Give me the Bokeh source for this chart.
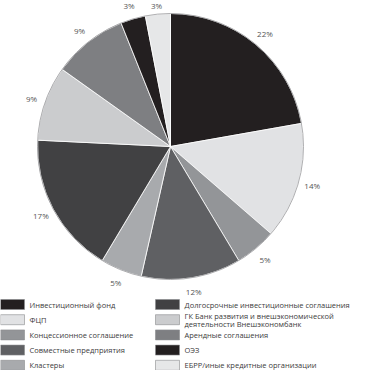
import math
from bokeh.plotting import figure
from bokeh.models import Range1d, ColumnDataSource
from bokeh.core.properties import value
from bokeh.embed import file_html
from bokeh.resources import INLINE

categories = [
    "Инвестиционный фонд",
    "ФЦП",
    "Концессионное соглашение",
    "Совместные предприятия",
    "Кластеры",
    "Долгосрочные инвестиционные соглашения",
    "ГК Банк развития и внешэкономической\nдеятельности Внешэкономбанк",
    "Арендные соглашения",
    "ОЭЗ",
    "ЕБРР/иные кредитные организации",
]
shares = [22, 14, 5, 12, 5, 17, 9, 9, 3, 3]
colors = ["#231f20", "#e1e2e4", "#939598", "#5f6063", "#a8aaad",
          "#414143", "#cbccce", "#7e7f82", "#231f20", "#e6e7e8"]

W, H = 357, 370
p = figure(width=W, height=H, x_range=Range1d(0, W), y_range=Range1d(0, H),
           output_backend="svg", toolbar_location=None, min_border=0)
p.axis.visible = False
p.grid.visible = False
p.outline_line_color = None
p.background_fill_color = "white"

cx, cy, r = 170, H - 146, 133
total = sum(shares)
starts, ends, lx, ly, labels = [], [], [], [], []
cum = 0
for s in shares:
    a0 = math.pi / 2 - 2 * math.pi * cum / total
    a1 = math.pi / 2 - 2 * math.pi * (cum + s) / total
    mid = (a0 + a1) / 2
    starts.append(a0)
    ends.append(a1)
    lx.append(cx + 147 * math.cos(mid))
    ly.append(min(cy + 147 * math.sin(mid), H - 5))
    labels.append(f"{s}%")
    cum += s

src = ColumnDataSource(dict(start=starts, end=ends, color=colors))
p.wedge(x=cx, y=cy, radius=r, start_angle="start", end_angle="end",
        direction="clock", fill_color="color", line_color="white",
        line_width=0.8, source=src)
p.circle(x=cx, y=cy, radius=r, fill_color=None, line_color="#9a9b9d", line_width=0.8)

p.text(x=lx, y=ly, text=labels, text_font=value("Open Sans"), text_font_size="8px",
       text_color="#555555", text_align="center", text_baseline="middle")

# legend
bx, by, bt = [], [], []
tx, ty, tt = [], [], []
for i, (cat, col) in enumerate(zip(categories, colors)):
    colm, row = divmod(i, 5)
    x0 = 0 if colm == 0 else 155
    yc = H - (304 + 15.2 * row)
    bx.append(x0 + 12)
    by.append(yc)
    bt.append(col)
    lines = cat.split("\n")
    n = len(lines)
    for k, ln in enumerate(lines):
        tx.append(x0 + 29)
        ty.append(yc + (n - 1) * 4 - k * 8)
        tt.append(ln)

p.rect(x=bx, y=by, width=24, height=10, fill_color=bt, line_color="#8a8b8d", line_width=0.6)
p.text(x=tx, y=ty, text=tt, text_font=value("Open Sans"), text_font_size="7.5px",
       text_color="#3c3c3c", text_align="left", text_baseline="middle")

open("out.html", "w").write(file_html(p, INLINE))
